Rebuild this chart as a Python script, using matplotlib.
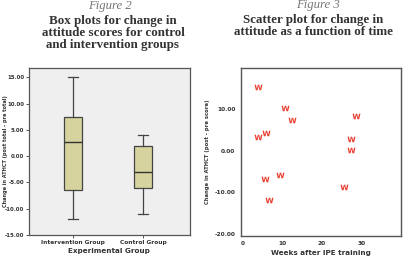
import matplotlib
matplotlib.use('Agg')
import matplotlib.pyplot as plt

# box plot data (change in ATHCT score)
groups = ['Intervention Group', 'Control Group']
whis_lo = [-12.0, -11.0]
q1 = [-6.5, -6.0]
med = [2.7, -3.0]
q3 = [7.5, 2.0]
whis_hi = [15.0, 4.0]

# scatter data: weeks after IPE training vs change
weeks = [3.8, 10.7, 12.4, 28.5, 5.8, 3.7, 27.4, 27.3, 9.5, 5.6, 25.5, 6.5]
change = [15.5, 10.3, 7.4, 8.5, 4.3, 3.3, 2.8, 0.2, -5.9, -6.9, -8.8, -12.0]

fig = plt.figure(figsize=(4.03, 2.59), dpi=100)
serif = 'Liberation Serif'
frame = '#555555'
txt = '#333333'

# --- left: box plots ---
ax1 = fig.add_axes([0.072, 0.093, 0.399, 0.645])
ax1.set_facecolor('#efefef')
stats = [dict(label=g, whislo=a, q1=b, med=c, q3=d, whishi=e)
         for g, a, b, c, d, e in zip(groups, whis_lo, q1, med, q3, whis_hi)]
ax1.bxp(stats, positions=[1, 2], widths=0.27, showfliers=False, patch_artist=True,
        boxprops=dict(facecolor='#d6d39e', edgecolor='#444444', linewidth=0.9),
        medianprops=dict(color='#333333', linewidth=1.0),
        whiskerprops=dict(color='#444444', linewidth=0.9),
        capprops=dict(color='#444444', linewidth=0.9), capwidths=0.14)
ax1.set_xlim(0.37, 2.67)
ax1.set_ylim(-15, 16.8)
ax1.set_yticks([-15, -10, -5, 0, 5, 10, 15])
ax1.set_yticklabels(['%.2f' % v for v in [-15, -10, -5, 0, 5, 10, 15]])
ax1.tick_params(axis='y', labelsize=3.9, length=2, width=0.7, color=frame, pad=1.5, labelcolor=txt)
ax1.tick_params(axis='x', labelsize=4.2, length=2, width=0.7, color=frame, pad=2, labelcolor=txt)
for lab in ax1.get_xticklabels() + ax1.get_yticklabels():
    lab.set_fontweight('bold')
for s in ax1.spines.values():
    s.set_color(frame)
    s.set_linewidth(0.9)
ax1.set_xlabel('Experimental Group', fontsize=5.2, fontweight='bold', color=txt, labelpad=2)
ax1.set_ylabel('Change in ATHCT (post total - pre total)', fontsize=3.6, fontweight='bold',
               color=txt)
ax1.yaxis.set_label_coords(-0.13, 0.5)

# --- right: scatter ---
ax2 = fig.add_axes([0.598, 0.09, 0.397, 0.648])
ax2.scatter(weeks, change, marker=r'$\mathbf{W}$', s=32, color='#e8392b', linewidths=0)
ax2.set_xlim(-0.5, 40)
ax2.set_ylim(-20.5, 20)
ax2.set_xticks([0, 10, 20, 30])
ax2.set_yticks([-20, -10, 0, 10])
ax2.set_yticklabels(['%.2f' % v for v in [-20, -10, 0, 10]])
ax2.tick_params(labelsize=4.2, length=0, pad=4, labelcolor=txt)
for lab in ax2.get_xticklabels() + ax2.get_yticklabels():
    lab.set_fontweight('bold')
for s in ax2.spines.values():
    s.set_color(frame)
    s.set_linewidth(1.0)
ax2.set_xlabel('Weeks after IPE training', fontsize=5.2, fontweight='bold', color=txt, labelpad=3)
ax2.set_ylabel('Change in ATHCT (post - pre score)', fontsize=3.8, fontweight='bold',
               color=txt, labelpad=3)

# --- titles ---
fig.text(110 / 403, 1 - 6 / 259, 'Figure 2', ha='center', va='center', fontsize=9.2,
         family=serif, style='italic', color='#777777')
fig.text(113 / 403, 1 - 33 / 259, 'Box plots for change in\nattitude scores for control\nand intervention groups',
         ha='center', va='center', fontsize=9.4, family=serif, fontweight='bold',
         color=txt, linespacing=0.95)
fig.text(318 / 403, 1 - 5 / 259, 'Figure 3', ha='center', va='center', fontsize=9.2,
         family=serif, style='italic', color='#777777')
fig.text(313 / 403, 1 - 26 / 259, 'Scatter plot for change in\nattitude as a function of time',
         ha='center', va='center', fontsize=9.4, family=serif, fontweight='bold',
         color=txt, linespacing=0.95)

fig.savefig('out.png', dpi=100)
